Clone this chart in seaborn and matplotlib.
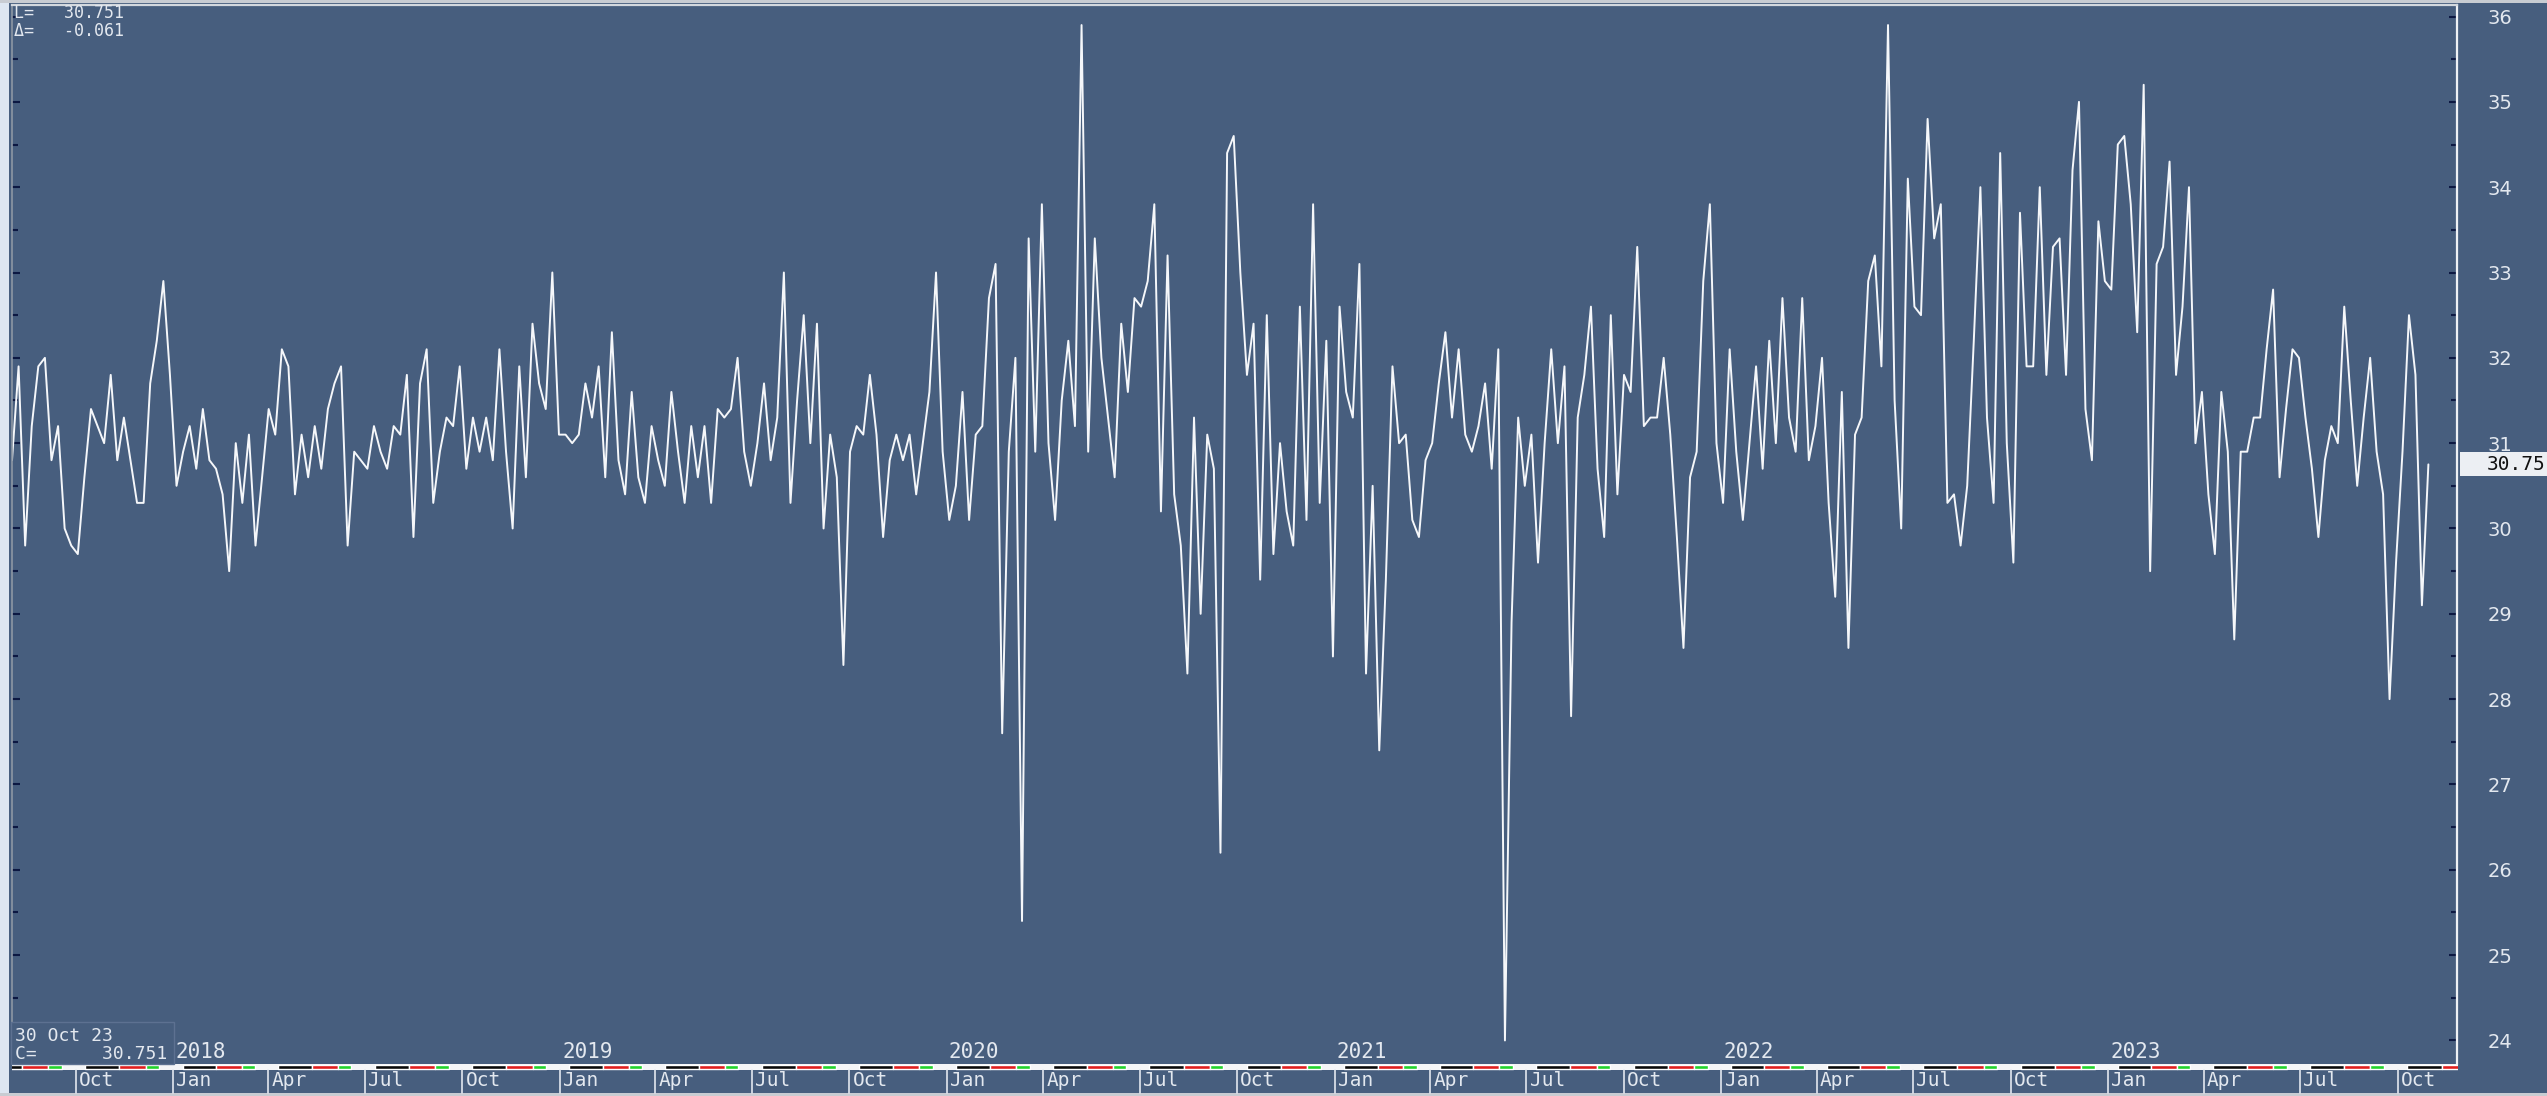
import numpy as np
import pandas as pd
import matplotlib
matplotlib.use("Agg")
import matplotlib.pyplot as plt
import matplotlib.dates as mdates
import matplotlib.transforms as mtransforms
from matplotlib.patches import Rectangle
from matplotlib.lines import Line2D
from matplotlib.ticker import MultipleLocator, FixedLocator
import seaborn as sns

# ---------------- data ----------------
segment_bounds = ["2017-08-02", "2018-08-22", "2019-09-13", "2020-10-04",
                  "2021-10-26", "2022-11-16", "2023-10-30"]

values_2017_2018 = [30.8, 31.9, 29.8, 31.2, 31.9, 32.0, 30.8, 31.2, 30.0, 29.8,
                    29.7, 30.6, 31.4, 31.2, 31.0, 31.8, 30.8, 31.3, 30.8, 30.3,
                    30.3, 31.7, 32.2, 32.9, 31.8, 30.5, 30.9, 31.2, 30.7, 31.4,
                    30.8, 30.7, 30.4, 29.5, 31.0, 30.3, 31.1, 29.8, 30.6, 31.4,
                    31.1, 32.1, 31.9, 30.4, 31.1, 30.6, 31.2, 30.7, 31.4, 31.7,
                    31.9, 29.8, 30.9, 30.8, 30.7, 31.2, 30.9, 30.7, 31.2, 31.1,
                    31.8, 29.9]

values_2018_2019 = [31.7, 32.1, 30.3, 30.9, 31.3, 31.2, 31.9, 30.7, 31.3, 30.9,
                    31.3, 30.8, 32.1, 30.9, 30.0, 31.9, 30.6, 32.4, 31.7, 31.4,
                    33.0, 31.1, 31.1, 31.0, 31.1, 31.7, 31.3, 31.9, 30.6, 32.3,
                    30.8, 30.4, 31.6, 30.6, 30.3, 31.2, 30.8, 30.5, 31.6, 30.9,
                    30.3, 31.2, 30.6, 31.2, 30.3, 31.4, 31.3, 31.4, 32.0, 30.9,
                    30.5, 31.0, 31.7, 30.8, 31.3, 33.0, 30.3, 31.5, 32.5, 31.0,
                    32.4, 30.0]

values_2019_2020 = [31.1, 30.6, 28.4, 30.9, 31.2, 31.1, 31.8, 31.1, 29.9, 30.8,
                    31.1, 30.8, 31.1, 30.4, 31.0, 31.6, 33.0, 30.9, 30.1, 30.5,
                    31.6, 30.1, 31.1, 31.2, 32.7, 33.1, 27.6, 30.9, 32.0, 25.4,
                    33.4, 30.9, 33.8, 31.0, 30.1, 31.5, 32.2, 31.2, 35.9, 30.9,
                    33.4, 32.0, 31.3, 30.6, 32.4, 31.6, 32.7, 32.6, 32.9, 33.8,
                    30.2, 33.2, 30.4, 29.8, 28.3, 31.3, 29.0, 31.1, 30.7, 26.2,
                    34.4, 34.6]

values_2020_2021 = [33.0, 31.8, 32.4, 29.4, 32.5, 29.7, 31.0, 30.2, 29.8, 32.6,
                    30.1, 33.8, 30.3, 32.2, 28.5, 32.6, 31.6, 31.3, 33.1, 28.3,
                    30.5, 27.4, 29.4, 31.9, 31.0, 31.1, 30.1, 29.9, 30.8, 31.0,
                    31.7, 32.3, 31.3, 32.1, 31.1, 30.9, 31.2, 31.7, 30.7, 32.1,
                    24.0, 28.9, 31.3, 30.5, 31.1, 29.6, 31.0, 32.1, 31.0, 31.9,
                    27.8, 31.3, 31.8, 32.6, 30.7, 29.9, 32.5, 30.4, 31.8, 31.6,
                    33.3, 31.2]

values_2021_2022 = [31.3, 31.3, 32.0, 31.1, 29.9, 28.6, 30.6, 30.9, 32.9, 33.8,
                    31.0, 30.3, 32.1, 30.9, 30.1, 31.0, 31.9, 30.7, 32.2, 31.0,
                    32.7, 31.3, 30.9, 32.7, 30.8, 31.2, 32.0, 30.3, 29.2, 31.6,
                    28.6, 31.1, 31.3, 32.9, 33.2, 31.9, 35.9, 31.5, 30.0, 34.1,
                    32.6, 32.5, 34.8, 33.4, 33.8, 30.3, 30.4, 29.8, 30.5, 32.2,
                    34.0, 31.3, 30.3, 34.4, 31.0, 29.6, 33.7, 31.9, 31.9, 34.0,
                    31.8, 33.3]

values_2022_2023 = [33.4, 31.8, 34.2, 35.0, 31.4, 30.8, 33.6, 32.9, 32.8, 34.5,
                    34.6, 33.8, 32.3, 35.2, 29.5, 33.1, 33.3, 34.3, 31.8, 32.6,
                    34.0, 31.0, 31.6, 30.4, 29.7, 31.6, 30.9, 28.7, 30.9, 30.9,
                    31.3, 31.3, 32.1, 32.8, 30.6, 31.4, 32.1, 32.0, 31.3, 30.7,
                    29.9, 30.8, 31.2, 31.0, 32.6, 31.5, 30.5, 31.3, 32.0, 30.9,
                    30.4, 28.0, 29.6, 30.9, 32.5, 31.8, 29.1, 30.751]

last_value = 30.751
last_change = -0.061
last_date_label = "30 Oct 23"

y_major_ticks = [24, 25, 26, 27, 28, 29, 30, 31, 32, 33, 34, 35, 36]
quarter_starts = pd.date_range("2017-10-01", "2023-10-01", freq="QS-JAN")
month_names = {1: "Jan", 4: "Apr", 7: "Jul", 10: "Oct"}
year_labels = [2018, 2019, 2020, 2021, 2022, 2023]

# ---------------- build series ----------------
segments = [values_2017_2018, values_2018_2019, values_2019_2020,
            values_2020_2021, values_2021_2022, values_2022_2023]
date_parts = []
for i, vals in enumerate(segments):
    s = pd.Timestamp(segment_bounds[i])
    e = pd.Timestamp(segment_bounds[i + 1])
    if i < len(segments) - 1:
        d = pd.date_range(s, e, periods=len(vals) + 1)[:-1]
    else:
        d = pd.date_range(s, e, periods=len(vals))
    date_parts.append(d)
df = pd.DataFrame({"date": np.concatenate([np.asarray(d) for d in date_parts]),
                   "value": np.concatenate([np.asarray(v, float) for v in segments])})

# ---------------- style ----------------
W, H = 2547, 1096
BG = "#475e7e"
TXT = "#e3e8ef"
TICK = "#0c1842"

sns.set_style("dark")
plt.rcParams["font.family"] = ["DejaVu Sans"]

fig = plt.figure(figsize=(W / 100, H / 100), dpi=100, facecolor=BG)

def fx(px):
    return px / W

def fy(py):
    return 1 - py / H

ax = fig.add_axes([fx(12), fy(1064), fx(2457) - fx(12), fy(5) - fy(1064)])
ax.set_facecolor(BG)

sns.lineplot(data=df, x="date", y="value", ax=ax, color="#f5f7fa",
             linewidth=1.4, estimator=None, legend=False)

xmin = mdates.date2num(pd.Timestamp("2017-08-02"))
xmax = mdates.date2num(pd.Timestamp("2023-11-26"))
ax.set_xlim(xmin, xmax)
ax.set_ylim(23.724, 36.135)
ax.set_xlabel("")
ax.set_ylabel("")
ax.grid(False)
ax.set_xticks([])

ax.yaxis.set_major_locator(FixedLocator(y_major_ticks))
ax.yaxis.set_minor_locator(MultipleLocator(0.5))
ax.yaxis.tick_right()
ax.tick_params(axis="y", which="both", direction="in", left=True, right=True,
               labelleft=False, labelright=True, colors=TICK, width=1.5)
ax.tick_params(axis="y", which="major", length=6, pad=22, labelsize=14,
               labelcolor=TXT)
ax.tick_params(axis="y", which="minor", length=4.5)
for lab in ax.get_yticklabels():
    lab.set_horizontalalignment("left")

for side in ["top", "right", "left", "bottom"]:
    ax.spines[side].set_visible(True)
ax.spines["top"].set_color("#d3d8de")
ax.spines["top"].set_linewidth(1.6)
ax.spines["right"].set_color("#eef1f5")
ax.spines["right"].set_linewidth(1.6)
ax.spines["left"].set_color("#8d97a4")
ax.spines["left"].set_linewidth(1.2)
ax.spines["bottom"].set_visible(False)

# ---------------- bottom strip ----------------
sax = fig.add_axes([fx(12), fy(1070), fx(2457) - fx(12), fy(1064) - fy(1070)])
sax.set_xlim(xmin, xmax)
sax.set_ylim(0, 1)
sax.set_facecolor("#f4f5f7")
for sp in sax.spines.values():
    sp.set_visible(False)
sax.set_xticks([])
sax.set_yticks([])
strip_pattern = [(0.10, 0.45, "#0a0a0a"), (0.45, 0.72, "#e01e1e"),
                 (0.72, 0.86, "#22d32a")]
all_q = pd.date_range("2017-07-01", "2024-01-01", freq="QS-JAN")
for q0, q1 in zip(all_q[:-1], all_q[1:]):
    a = mdates.date2num(q0)
    b = mdates.date2num(q1)
    for f0, f1, c in strip_pattern:
        sax.broken_barh([(a + f0 * (b - a), (f1 - f0) * (b - a))], (0.1, 0.8),
                        facecolors=c)

# ---------------- month / year labels ----------------
blend = mtransforms.blended_transform_factory(ax.transData, fig.transFigure)
for q in quarter_starts:
    qn = mdates.date2num(q)
    fig.add_artist(Line2D([qn, qn], [fy(1070), fy(1093)], transform=blend,
                          color=TXT, linewidth=1.2))
    fig.text(qn + 3, fy(1081), month_names[q.month],
             transform=blend, ha="left", va="center", color=TXT,
             fontsize=14, family="DejaVu Sans Mono")
for yr in year_labels:
    d = mdates.date2num(pd.Timestamp(f"{yr}-01-01")) + 2
    fig.text(d, fy(1062), str(yr), transform=blend, ha="left", va="bottom",
             color=TXT, fontsize=15, family="DejaVu Sans Mono", zorder=5)

# ---------------- annotations ----------------
fig.text(fx(14), fy(4), f"L=   {last_value:.3f}", ha="left", va="top",
         color=TXT, fontsize=12, family="DejaVu Sans Mono")
fig.text(fx(14), fy(22), f"\u0394=   {last_change:.3f}", ha="left", va="top",
         color=TXT, fontsize=12, family="DejaVu Sans Mono")

fig.add_artist(Rectangle((fx(11), fy(1064)), fx(174) - fx(11), fy(1022) - fy(1064),
                         transform=fig.transFigure, facecolor=BG,
                         edgecolor="#5d7191", linewidth=1.0, zorder=4))
fig.text(fx(15), fy(1027), last_date_label, ha="left", va="top", color=TXT,
         fontsize=13, family="DejaVu Sans Mono", zorder=6)
fig.text(fx(15), fy(1045), f"C=      {last_value:.3f}", ha="left", va="top",
         color=TXT, fontsize=13, family="DejaVu Sans Mono", zorder=6)

vblend = mtransforms.blended_transform_factory(fig.transFigure, ax.transData)
fig.add_artist(Rectangle((fx(2460), last_value - 0.14), 1 - fx(2460), 0.28,
                         transform=vblend, facecolor="#eceff3",
                         edgecolor="none", zorder=5))
fig.text(fx(2487), last_value, f"{last_value:.2f}", transform=vblend,
         ha="left", va="center", color="#111111", fontsize=14,
         family="DejaVu Sans Mono", zorder=6)

# frame decorations
fig.add_artist(Rectangle((0, 0), fx(9), 1, transform=fig.transFigure,
                         facecolor="#dde6f1", edgecolor="none", zorder=0))
fig.add_artist(Rectangle((0, fy(3)), 1, 1 - fy(3), transform=fig.transFigure,
                         facecolor="#c8ccd2", edgecolor="none", zorder=0))
fig.add_artist(Rectangle((0, 0), 1, 1 - fy(3), transform=fig.transFigure,
                         facecolor="#c8ccd2", edgecolor="none", zorder=0))

fig.savefig("out.png", dpi=100, facecolor=BG)
